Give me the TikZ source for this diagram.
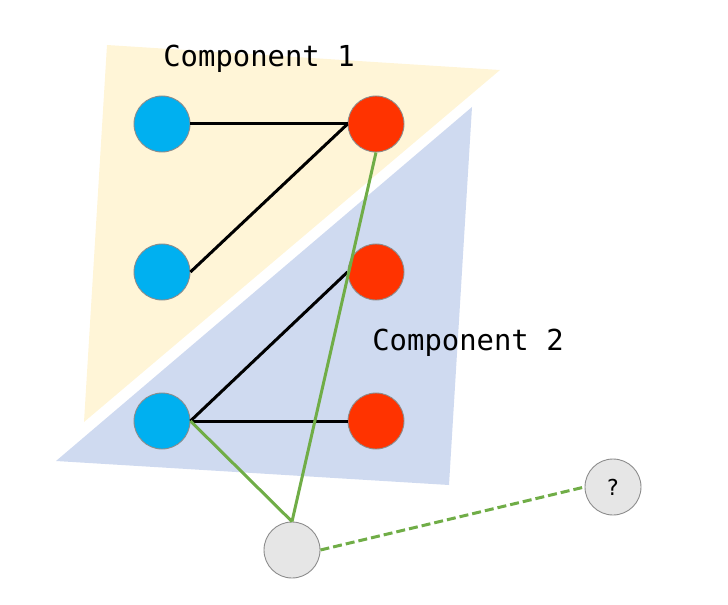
\documentclass[tikz,border=0pt]{standalone}
\usepackage{fontspec}
\setmonofont{DejaVu Sans Mono}
\newfontfamily\qfont{DejaVu Sans}
\definecolor{compyellow}{HTML}{FFF5D7}
\definecolor{compblue}{HTML}{CFDAF0}
\definecolor{nblue}{HTML}{00B0F0}
\definecolor{nred}{HTML}{FF3300}
\definecolor{ngray}{HTML}{E6E6E6}
\definecolor{nborder}{HTML}{8C8C8C}
\definecolor{egreen}{HTML}{70AD47}
\begin{document}
\begin{tikzpicture}[x=1bp,y=-1bp,
  vert/.style={circle,draw=nborder,line width=0.9bp,minimum size=56bp,inner sep=0pt},
  bluev/.style={vert,fill=nblue},
  redv/.style={vert,fill=nred},
  grayv/.style={vert,fill=ngray,font=\qfont\fontsize{22}{26}\selectfont},
  blk/.style={line width=3bp,black},
  grn/.style={line width=3bp,egreen},
  lbl/.style={font=\ttfamily\fontsize{29}{33}\selectfont,inner sep=0pt}]
\useasboundingbox (0,0) rectangle (728,605);
\fill[compyellow] (107,45) -- (500,70) -- (84,422) -- cycle;
\fill[compblue] (472,107) -- (449,485) -- (56,461) -- cycle;
\node[lbl] (c1) at (259,59) {Component 1};
\node[lbl] (c2) at (468,343) {Component 2};
\node[bluev] (b1) at (162,124) {};
\node[bluev] (b2) at (162,272) {};
\node[bluev] (b3) at (162,421) {};
\node[redv] (r1) at (376,124) {};
\node[redv] (r2) at (376,272) {};
\node[redv] (r3) at (376,421) {};
\node[grayv] (g) at (292,550) {};
\node[grayv] (q) at (613,487) {?};
\draw[blk] (b1.east) -- (r1.west);
\draw[blk] (b2.east) -- (r1.west);
\draw[blk] (b3.east) -- (r2.west);
\draw[blk] (b3.east) -- (r3.west);
\draw[grn] (b3.east) -- (g.north);
\draw[grn] (r1.south) -- (g.north);
\draw[grn,dash pattern=on 9bp off 4bp] (g.east) -- (q.west);
\end{tikzpicture}
\end{document}
